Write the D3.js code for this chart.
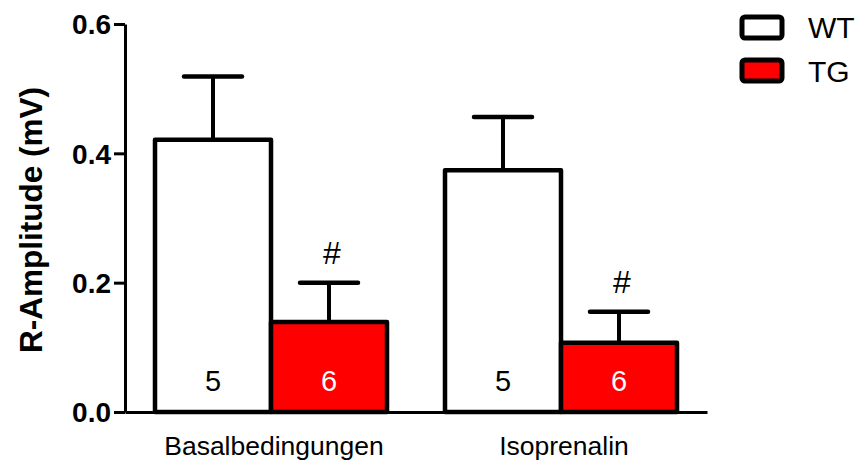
<!DOCTYPE html>
<html><head><meta charset="utf-8">
<script src="https://cdn.jsdelivr.net/npm/d3@7"></script>
<style>body{margin:0;background:#fff}svg{display:block}</style>
</head><body><svg id="c" width="860" height="461"></svg>
<script>
const categories = ["Basalbedingungen", "Isoprenalin"];
const seriesNames = ["WT", "TG"];
const seriesColors = ["#ffffff", "#ff0000"];
const meanWT = [0.421, 0.374];
const semWT = [0.098, 0.082];
const meanTG = [0.139, 0.107];
const semTG = [0.061, 0.048];
const nWT = ["5", "5"];
const nTG = ["6", "6"];
const sigTG = ["#", "#"];
const yTicks = [0.0, 0.2, 0.4, 0.6];
const yTitle = "R-Amplitude (mV)";

const svg = d3.select("#c");
const font = "'Liberation Sans', Arial, sans-serif";
const y = d3.scaleLinear().domain([0, 0.6]).range([412, 24]);
const x0 = d3.scaleBand().domain(categories).range([155, 677]).paddingInner(0.2).paddingOuter(0);
const x1 = d3.scaleBand().domain(seriesNames).range([0, x0.bandwidth()]);

const data = [];
categories.forEach((c, i) => {
  data.push({cat: c, s: "WT", mean: meanWT[i], sem: semWT[i], n: nWT[i], sig: "", col: seriesColors[0], txt: "#000"});
  data.push({cat: c, s: "TG", mean: meanTG[i], sem: semTG[i], n: nTG[i], sig: sigTG[i], col: seriesColors[1], txt: "#fff"});
});

// error bars
const eb = svg.append("g");
data.forEach(d => {
  const cx = x0(d.cat) + x1(d.s) + x1.bandwidth() / 2;
  eb.append("line").attr("x1", cx).attr("x2", cx).attr("y1", y(d.mean)).attr("y2", y(d.mean + d.sem))
    .attr("stroke", "#000").attr("stroke-width", 4);
  eb.append("line").attr("x1", cx - 29).attr("x2", cx + 29).attr("y1", y(d.mean + d.sem)).attr("y2", y(d.mean + d.sem))
    .attr("stroke", "#000").attr("stroke-width", 4.5).attr("stroke-linecap", "round");
  if (d.sig) {
    svg.append("text").attr("x", cx + 3).attr("y", y(d.mean + d.sem) - 19).attr("text-anchor", "middle")
      .attr("font-family", font).attr("font-size", 32).text(d.sig);
  }
});

// bars
svg.append("g").selectAll("rect").data(data).join("rect")
  .attr("x", d => x0(d.cat) + x1(d.s))
  .attr("y", d => y(d.mean))
  .attr("width", x1.bandwidth())
  .attr("height", d => y(0) - y(d.mean))
  .attr("fill", d => d.col).attr("stroke", "#000").attr("stroke-width", 4.5)
  .attr("stroke-linejoin", "round");

svg.append("g").selectAll("text").data(data).join("text")
  .attr("x", d => x0(d.cat) + x1(d.s) + x1.bandwidth() / 2)
  .attr("y", 391).attr("text-anchor", "middle")
  .attr("font-family", font).attr("font-size", 29).attr("fill", d => d.txt).text(d => d.n);

// y axis
const ya = svg.append("g").attr("transform", "translate(125,0)")
  .call(d3.axisLeft(y).tickValues(yTicks).tickFormat(d3.format(".1f")).tickSize(11).tickSizeOuter(0));
ya.select(".domain").attr("stroke", "#000").attr("stroke-width", 3);
ya.selectAll(".tick line").attr("stroke", "#000").attr("stroke-width", 3);
ya.selectAll(".tick text").attr("font-family", font).attr("font-size", 28).attr("font-weight", "bold")
  .attr("fill", "#000").attr("x", -14).attr("dy", "0.35em");

// x axis baseline
const xa = svg.append("g").attr("transform", "translate(0,412)")
  .call(d3.axisBottom(d3.scaleLinear().domain([0, 1]).range([125, 707])).tickValues([]).tickSizeOuter(0));
xa.select(".domain").attr("stroke", "#000").attr("stroke-width", 3);

svg.append("g").selectAll("text").data(categories).join("text")
  .attr("x", d => x0(d) + x0.bandwidth() / 2 + 3).attr("y", 455).attr("text-anchor", "middle")
  .attr("font-family", font).attr("font-size", 26.5).text(d => d);

// y title
svg.append("text").attr("transform", "translate(42,220) rotate(-90)").attr("text-anchor", "middle")
  .attr("font-family", font).attr("font-size", 31.5).attr("font-weight", "bold").text(yTitle);

// legend
const lg = svg.append("g");
seriesNames.forEach((s, i) => {
  lg.append("rect").attr("x", 742).attr("y", 17 + i * 43).attr("width", 40).attr("height", 21)
    .attr("rx", 3).attr("fill", seriesColors[i]).attr("stroke", "#000").attr("stroke-width", 5);
  lg.append("text").attr("x", 808).attr("y", 38 + i * 44).attr("font-family", font).attr("font-size", 30).text(s);
});
</script></body></html>
